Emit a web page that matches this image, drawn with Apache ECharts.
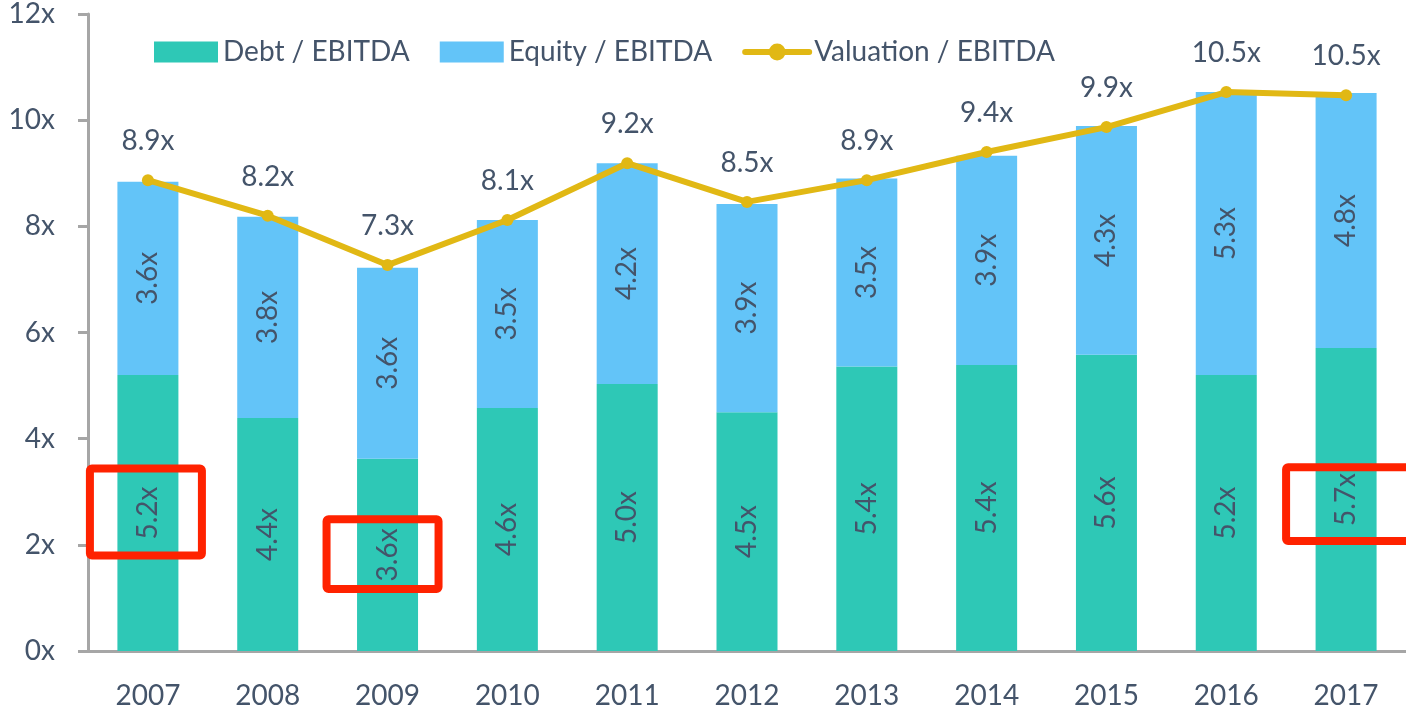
<!DOCTYPE html>
<html>
<head>
<meta charset="utf-8">
<script src="https://cdn.jsdelivr.net/npm/echarts@6/dist/echarts.min.js"></script>
<style>
  html, body { margin: 0; padding: 0; background: #fff; }
  #chart { width: 1406px; height: 713px; }
</style>
</head>
<body>
<div id="chart"></div>
<script>
// data
const years = ['2007', '2008', '2009', '2010', '2011', '2012', '2013', '2014', '2015', '2016', '2017'];
const debtValues = [5.20, 4.39, 3.62, 4.58, 5.03, 4.50, 5.36, 5.39, 5.58, 5.20, 5.71];
const equityValues = [3.64, 3.79, 3.60, 3.54, 4.16, 3.92, 3.54, 3.94, 4.31, 5.33, 4.80];
const valuationValues = [8.87, 8.20, 7.27, 8.12, 9.19, 8.46, 8.87, 9.40, 9.87, 10.53, 10.47];
const yTicks = [0, 2, 4, 6, 8, 10, 12];

// highlighted boxes: [year, low value, high value]
const highlightBoxes = [
  ['2007', 1.8, 3.44],
  ['2009', 1.17, 2.48],
  ['2017', 2.07, 3.46],
];

const textColor = '#44546a';
const fontFamily = 'Lato';

const myChart = echarts.init(document.getElementById('chart'));

const fmt = (p) => Number(p.value).toFixed(1) + 'x';

const labelStyle = { fontSize: 28, color: textColor, fontFamily: fontFamily };

const option = {
  animation: false,
  textStyle: { fontFamily: fontFamily },
  grid: { left: 88, right: -9, top: 14, bottom: 62 },
  legend: {
    left: 149,
    top: 33,
    itemWidth: 64,
    itemHeight: 21,
    itemGap: 30,
    textStyle: labelStyle,
    data: [
      { name: 'Debt / EBITDA', icon: 'rect' },
      { name: 'Equity / EBITDA', icon: 'rect' },
      { name: 'Valuation / EBITDA', lineStyle: { width: 6, cap: 'round' }, itemStyle: { borderWidth: 0 } },
    ],
  },
  xAxis: {
    type: 'category',
    data: years,
    axisLine: { lineStyle: { color: '#a6a6a6', width: 3 } },
    axisTick: { show: false },
    axisLabel: Object.assign({ margin: 31 }, labelStyle),
  },
  yAxis: {
    type: 'value',
    min: yTicks[0],
    max: yTicks[yTicks.length - 1],
    interval: 2,
    axisLine: { show: true, lineStyle: { color: '#a6a6a6', width: 3 } },
    axisTick: { show: true, length: 10, lineStyle: { color: '#a6a6a6', width: 3 } },
    splitLine: { show: false },
    axisLabel: Object.assign({ margin: 33, formatter: '{value}x' }, labelStyle),
  },
  series: [
    {
      name: 'Debt / EBITDA',
      type: 'bar',
      stack: 'total',
      barWidth: 61,
      data: debtValues,
      itemStyle: { color: '#2ec8b6' },
      label: Object.assign({ show: true, position: 'inside', rotate: 90, formatter: fmt }, labelStyle),
    },
    {
      name: 'Equity / EBITDA',
      type: 'bar',
      stack: 'total',
      barWidth: 61,
      data: equityValues,
      itemStyle: { color: '#63c4f8' },
      label: Object.assign({ show: true, position: 'inside', rotate: 90, formatter: fmt }, labelStyle),
    },
    {
      name: 'Valuation / EBITDA',
      type: 'line',
      data: valuationValues,
      symbol: 'circle',
      symbolSize: 12,
      z: 5,
      lineStyle: { color: '#e1b814', width: 6 },
      itemStyle: { color: '#e1b814' },
      label: Object.assign({ show: true, position: 'top', distance: 19, formatter: fmt }, labelStyle),
    },
  ],
};
myChart.setOption(option);

// red boxes placed through the chart's own scales
const boxWidth = 112;
const graphics = highlightBoxes.map(([year, lo, hi], i) => {
  const pLo = myChart.convertToPixel({ xAxisIndex: 0, yAxisIndex: 0 }, [year, lo]);
  const pHi = myChart.convertToPixel({ xAxisIndex: 0, yAxisIndex: 0 }, [year, hi]);
  const isLast = i === highlightBoxes.length - 1;
  const x = isLast ? pLo[0] - 60 : pLo[0] - boxWidth / 2 - (i === 0 ? 2 : 5);
  return {
    type: 'rect',
    shape: { x: x, y: pHi[1], width: isLast ? 160 : boxWidth, height: pLo[1] - pHi[1], r: 2 },
    style: { fill: 'none', stroke: '#ff2200', lineWidth: 8 },
    z: 100,
  };
});
myChart.setOption({ graphic: graphics });
</script>
</body>
</html>
